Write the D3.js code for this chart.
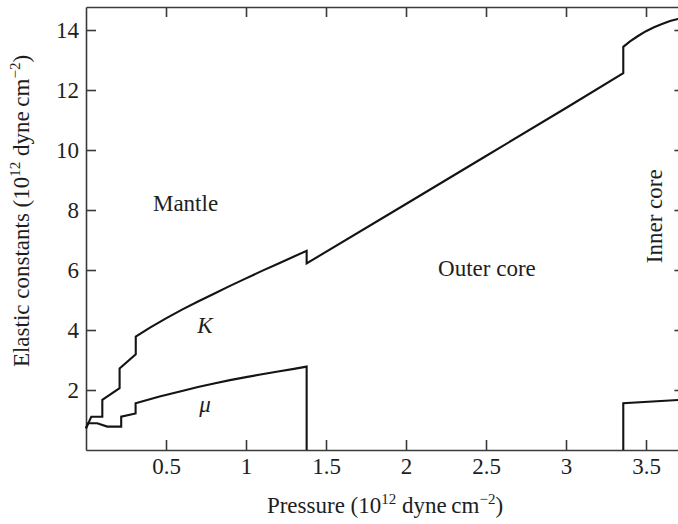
<!DOCTYPE html>
<html>
<head>
<meta charset="utf-8">
<script src="https://cdn.jsdelivr.net/npm/d3@7"></script>
<style>
  body { margin: 0; background: #fff; }
  svg { display: block; }
  text { font-family: "Liberation Serif", "Times New Roman", serif; fill: #1e1e1e; }
</style>
</head>
<body>
<svg id="chart" width="678" height="524"></svg>
<script>
// Bulk modulus K through mantle, outer core and inner core (10^12 dyne cm^-2)
const pressureK = [0, 0.033, 0.102, 0.102, 0.21, 0.21, 0.311, 0.311,
                   0.4, 0.5, 0.6, 0.7, 0.8, 0.9, 1.0, 1.1, 1.2, 1.3, 1.379,
                   1.379, 2.0, 2.5, 3.0, 3.358,
                   3.358, 3.4, 3.45, 3.5, 3.55, 3.6, 3.65, 3.7, 3.74];
const valuesK   = [0.72, 1.11, 1.11, 1.67, 2.06, 2.72, 3.19, 3.78,
                   4.08, 4.39, 4.68, 4.95, 5.21, 5.47, 5.72, 5.97, 6.21, 6.45, 6.64,
                   6.22, 8.2, 9.8, 11.4, 12.56,
                   13.44, 13.62, 13.8, 13.96, 14.09, 14.2, 14.3, 14.37, 14.42];

// Shear modulus mu: mantle (falls to zero at the core boundary) and inner core
const pressureMuMantle = [0, 0.012, 0.07, 0.133, 0.22, 0.22, 0.31, 0.31, 0.36, 0.46, 0.6, 0.7, 0.8,
                          0.9, 1.0, 1.1, 1.2, 1.3, 1.379, 1.379];
const valuesMuMantle   = [0.72, 0.89, 0.89, 0.78, 0.78, 1.11, 1.22, 1.56, 1.63, 1.78, 1.97, 2.1, 2.22,
                          2.33, 2.43, 2.525, 2.615, 2.705, 2.78, 0];
const pressureMuInner  = [3.358, 3.358, 3.74];
const valuesMuInner    = [0, 1.56, 1.68];

// Tick values
const xTicks = [0.5, 1, 1.5, 2, 2.5, 3, 3.5];
const xTickLabels = ["0.5", "1", "1.5", "2", "2.5", "3", "3.5"];
const yTicks = [2, 4, 6, 8, 10, 12, 14];

// Region and curve labels
const regionLabels = [
  { text: "Mantle", p: 0.622, v: 7.97, rotate: false, italic: false },
  { text: "Outer core", p: 2.506, v: 5.8, rotate: false, italic: false },
  { text: "K", p: 0.744, v: 3.9, rotate: false, italic: true },
  { text: "\u03bc", p: 0.744, v: 1.27, rotate: false, italic: true },
  { text: "Inner core", p: 3.6, v: 7.79, rotate: true, italic: false }
];

const svg = d3.select("#chart");
const fontSize = 23;

const x = d3.scaleLinear().domain([0, 3.74]).range([86, 684.4]);
const y = d3.scaleLinear().domain([0, 14.767]).range([450, 7]);

const axisColor = "#3a3a3a";

function styleAxis(g) {
  g.selectAll("path.domain").attr("stroke", axisColor).attr("stroke-width", 1.6);
  g.selectAll(".tick line").attr("stroke", axisColor).attr("stroke-width", 1.6);
  g.selectAll(".tick text")
    .attr("font-family", "Liberation Serif, Times New Roman, serif")
    .attr("font-size", fontSize)
    .attr("fill", "#1e1e1e");
}

// Bottom axis with labels
svg.append("g")
  .attr("transform", `translate(0,${y(0)})`)
  .call(d3.axisBottom(x).tickValues(xTicks).tickSize(-10).tickSizeOuter(0).tickPadding(8)
        .tickFormat((d, i) => xTickLabels[i]))
  .call(styleAxis);

// Top axis, ticks only
svg.append("g")
  .attr("transform", `translate(0,${y.range()[1]})`)
  .call(d3.axisTop(x).tickValues(xTicks).tickSize(-10).tickSizeOuter(0).tickFormat(""))
  .call(styleAxis);

// Left axis with labels
svg.append("g")
  .attr("transform", `translate(${x(0)},0)`)
  .call(d3.axisLeft(y).tickValues(yTicks).tickSize(-10).tickSizeOuter(0).tickPadding(7)
        .tickFormat(d3.format("d")))
  .call(styleAxis);

// Right axis, ticks only
svg.append("g")
  .attr("transform", `translate(${x.range()[1]},0)`)
  .call(d3.axisRight(y).tickValues(yTicks).tickSize(-10).tickSizeOuter(0).tickFormat(""))
  .call(styleAxis);

// Curves
const line = d3.line().x(d => x(d[0])).y(d => y(d[1]));
const curves = [
  d3.zip(pressureK, valuesK),
  d3.zip(pressureMuMantle, valuesMuMantle),
  d3.zip(pressureMuInner, valuesMuInner)
];
svg.append("g")
  .selectAll("path")
  .data(curves)
  .join("path")
  .attr("d", line)
  .attr("fill", "none")
  .attr("stroke", "#141414")
  .attr("stroke-width", 2.1)
  .attr("stroke-linejoin", "miter");

// Labels inside the plot
svg.append("g")
  .selectAll("text")
  .data(regionLabels)
  .join("text")
  .attr("transform", d => d.rotate
        ? `translate(${x(d.p)},${y(d.v)}) rotate(-90)`
        : `translate(${x(d.p)},${y(d.v)})`)
  .attr("text-anchor", "middle")
  .attr("font-size", fontSize)
  .attr("font-style", d => d.italic ? "italic" : "normal")
  .text(d => d.text);

// Axis titles with superscripts
function unitTitle(sel, lead) {
  sel.append("tspan").text(lead + " (10");
  sel.append("tspan").attr("font-size", 15).attr("dy", -9).text("12");
  sel.append("tspan").attr("dy", 9).text(" dyne\u2009cm");
  sel.append("tspan").attr("font-size", 15).attr("dy", -9).text("\u22122");
  sel.append("tspan").attr("dy", 9).text(")");
}

svg.append("text")
  .attr("x", 385)
  .attr("y", 513)
  .attr("text-anchor", "middle")
  .attr("font-size", fontSize)
  .call(unitTitle, "Pressure");

svg.append("text")
  .attr("transform", "translate(29,211) rotate(-90)")
  .attr("text-anchor", "middle")
  .attr("font-size", fontSize)
  .call(unitTitle, "Elastic constants");
</script>
</body>
</html>
